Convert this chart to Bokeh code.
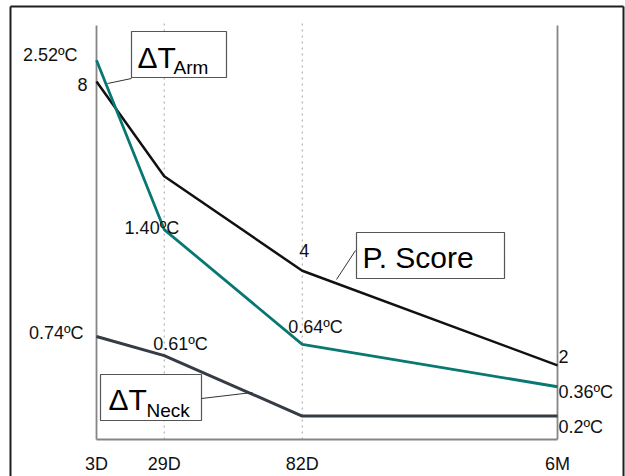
from bokeh.plotting import figure
from bokeh.models import Range1d
from bokeh.embed import file_html
from bokeh.resources import INLINE
from bokeh.core.properties import value

# ---------------- data ----------------
time_labels = ["3D", "29D", "82D", "6M"]
time_days = [3, 29, 82, 180]

pain_score = [8, 6, 4, 2]
pain_score_labels = ["8", "", "4", "2"]

dt_arm = [2.52, 1.40, 0.64, 0.36]
dt_arm_labels = ["2.52ºC", "1.40ºC", "0.64ºC", "0.36ºC"]

dt_neck = [0.74, 0.61, 0.20, 0.20]
dt_neck_labels = ["0.74ºC", "0.61ºC", "", "0.2ºC"]

# ---------------- layout / style ----------------
FONT = value("Liberation Sans")
W, H = 625, 476
# plot box (canvas px) and the value each axis has at the box edges
PL, PR, PT, PB = 96, 557, 25, 439
SCORE_AT_BOX = (0.433, 9.186)
ARM_AT_BOX = (0.011, 2.750)
NECK_AT_BOX = (0.041, 2.849)

def extend(lo, hi, a, b, total):
    per = (hi - lo) / (b - a)
    return lo - a * per, hi + (total - b) * per

XR = extend(time_days[0], time_days[-1], PL, PR, W)
SR = extend(*SCORE_AT_BOX, H - PB, H - PT, H)
AR = extend(*ARM_AT_BOX, H - PB, H - PT, H)
NR = extend(*NECK_AT_BOX, H - PB, H - PT, H)

AXIS_COLOR = "#858585"
SCORE_COLOR = "#111111"
ARM_COLOR = "#0a7872"
NECK_COLOR = "#353c45"
BOX_COLOR = "#555555"

p = figure(width=W, height=H, output_backend="svg", toolbar_location=None,
           x_range=Range1d(*XR), y_range=Range1d(*SR),
           min_border=0, min_border_left=0, min_border_right=0,
           min_border_top=0, min_border_bottom=0)
p.extra_y_ranges = {"arm": Range1d(*AR), "neck": Range1d(*NR)}
p.outline_line_color = None
p.axis.visible = False
p.grid.visible = False
p.background_fill_color = "white"
p.border_fill_color = "white"

def sx(px):
    return XR[0] + px * (XR[1] - XR[0]) / W
def sy(py):
    return SR[1] - py * (SR[1] - SR[0]) / H

# outer border (top, left, right)
p.multi_line(xs=[[sx(10), sx(623)], [sx(10), sx(10)], [sx(623), sx(623)]],
             ys=[[sy(6), sy(6)], [sy(6), sy(H + 2)], [sy(6), sy(H + 2)]],
             line_color="#1e1e1e", line_width=2)

# dotted guide lines at the inner time points
for d in time_days[1:3]:
    p.segment(x0=[d], y0=[sy(PB)], x1=[d], y1=[sy(20)], line_color="#a0a0a0",
              line_width=1, line_dash="dotted")

# axis lines: left, right, bottom
p.segment(x0=[time_days[0], time_days[-1], time_days[0]],
          y0=[sy(PT), sy(PT), sy(PB)],
          x1=[time_days[0], time_days[-1], time_days[-1]],
          y1=[sy(PB), sy(PB), sy(PB)],
          line_color=AXIS_COLOR, line_width=1.8)

# x tick labels
p.text(x=time_days, y=[sy(463)] * len(time_days), text=time_labels,
       text_align="center", text_baseline="middle", text_font=FONT,
       text_font_size="18px", text_color="#111111")

# series lines
p.line(time_days, pain_score, line_color=SCORE_COLOR, line_width=2.5)
p.line(time_days, dt_arm, line_color=ARM_COLOR, line_width=2.8, y_range_name="arm")
p.line(time_days, dt_neck, line_color=NECK_COLOR, line_width=3, y_range_name="neck")

# value labels: (align, x_offset, y_offset downwards) per point
score_pos = [("right", -9, 3), None, ("center", 2, -20), ("left", 1, -9)]
arm_pos = [("right", -19, -5), ("right", 15, -2), ("left", -14, -17), ("left", 1, 5)]
neck_pos = [("right", -13, -3), ("left", -11, -12), None, ("left", 1, 11)]

def add_labels(vals, labels, pos, rng):
    for x, y, t, ps in zip(time_days, vals, labels, pos):
        if not t or ps is None:
            continue
        al, dx, dy = ps
        kw = {} if rng is None else {"y_range_name": rng}
        p.text(x=[x], y=[y], text=[t], text_align=al, text_baseline="middle",
               x_offset=dx, y_offset=dy, text_font=FONT, text_font_size="18px",
               text_color="#111111", **kw)

add_labels(pain_score, pain_score_labels, score_pos, None)
add_labels(dt_arm, dt_arm_labels, arm_pos, "arm")
add_labels(dt_neck, dt_neck_labels, neck_pos, "neck")

# ---------------- callout boxes ----------------
def callout(box, leader, parts):
    l, r, t, b = box
    p.quad(left=[sx(l)], right=[sx(r)], top=[sy(t)], bottom=[sy(b)],
           fill_color="white", line_color=BOX_COLOR, line_width=1.2)
    (ax, ay), (bx, by) = leader
    p.segment(x0=[sx(ax)], y0=[sy(ay)], x1=[sx(bx)], y1=[sy(by)],
              line_color="#333333", line_width=1)
    for txt, px, py, size in parts:
        p.text(x=[sx(px)], y=[sy(py)], text=[txt], text_align="left",
               text_baseline="middle", text_font=FONT,
               text_font_size=size, text_color="#000000")

callout((131, 226, 31, 77), ((107, 83), (131, 78)),
        [("ΔT", 137, 57, "30px"), ("Arm", 173, 67, "19px")])
callout((356, 504, 232, 278), ((336, 279), (355, 250)),
        [("P. Score", 362, 257, "30px")])
callout((100, 201, 374, 420), ((201, 398), (252, 392)),
        [("ΔT", 108, 399, "30px"), ("Neck", 146, 410, "19px")])

open("out.html", "w").write(file_html(p, INLINE))
